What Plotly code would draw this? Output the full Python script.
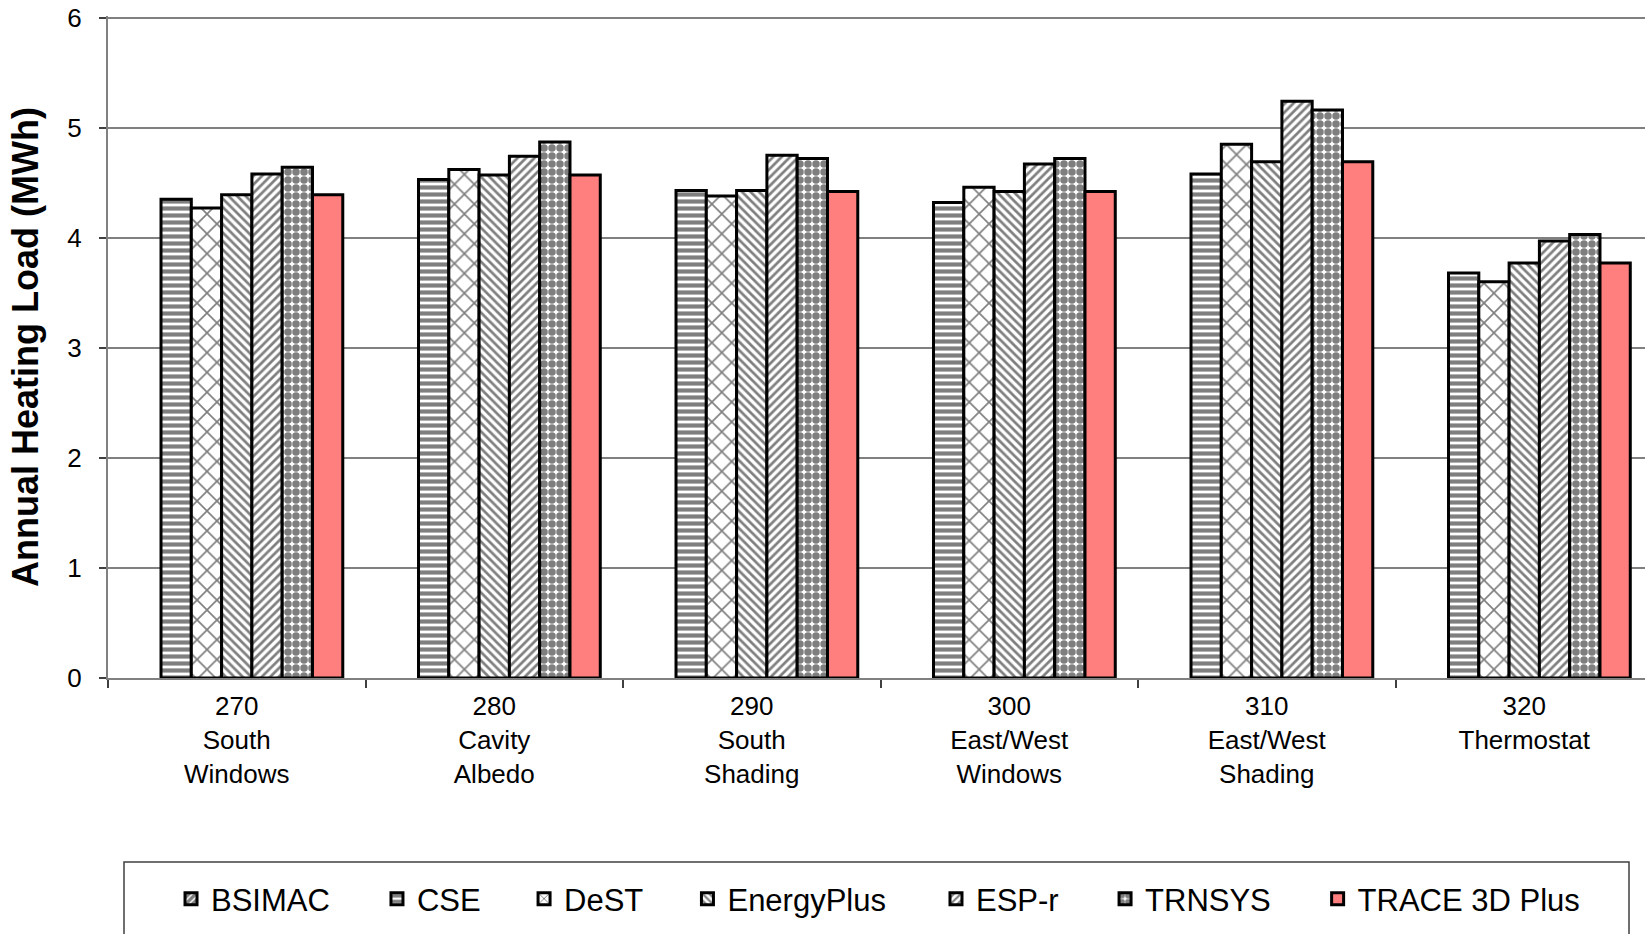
import plotly.graph_objects as go

categories = ["270<br>South<br>Windows", "280<br>Cavity<br>Albedo", "290<br>South<br>Shading",
              "300<br>East/West<br>Windows", "310<br>East/West<br>Shading", "320<br>Thermostat"]

bsimac = [None, None, None, None, None, None]
cse = [4.35, 4.53, 4.43, 4.32, 4.58, 3.68]
dest = [4.27, 4.62, 4.38, 4.46, 4.85, 3.60]
energyplus = [4.39, 4.57, 4.43, 4.42, 4.69, 3.77]
espr = [4.58, 4.74, 4.75, 4.67, 5.24, 3.97]
trnsys = [4.64, 4.87, 4.72, 4.72, 5.16, 4.03]
trace3d = [4.39, 4.57, 4.42, 4.42, 4.69, 3.77]

series_names = ["BSIMAC", "CSE", "DeST", "EnergyPlus", "ESP-r", "TRNSYS", "TRACE 3D Plus"]
series_values = [bsimac, cse, dest, energyplus, espr, trnsys, trace3d]

patterns = [
    dict(shape="/", size=6, solidity=0.7),
    dict(shape="-", size=7, solidity=0.6),
    dict(shape="x", size=14, solidity=0.22),
    dict(shape="\\", size=6, solidity=0.45),
    dict(shape="/", size=6, solidity=0.45),
    dict(shape=".", size=8, solidity=0.7),
    None,
]

# legend placement (paper x of each legend's left edge)
legend_x = [0.041, 0.175, 0.2707, 0.377, 0.5387, 0.6487, 0.787]

W, H = 1645, 934
L, T, B = 108, 16, 256
PW = W - L
PH = H - T - B
BOTTOM = T + PH

fig = go.Figure()
for i, (name, vals, pat) in enumerate(zip(series_names, series_values, patterns)):
    marker = dict(line=dict(color="black", width=3))
    if pat is None:
        marker["color"] = "#FF7F7F"
    else:
        marker["color"] = "white"
        marker["pattern"] = dict(fgcolor="black", bgcolor="white", fillmode="overlay", **pat)
    lname = "legend" if i == 0 else f"legend{i + 1}"
    fig.add_trace(go.Bar(name=name, x=categories, y=vals, marker=marker,
                         offsetgroup=str(i), legend=lname))

layout_legends = {}
for i, lx in enumerate(legend_x):
    lname = "legend" if i == 0 else f"legend{i + 1}"
    layout_legends[lname] = dict(orientation="h", x=lx, xanchor="left",
                                 y=-(899 - BOTTOM) / PH, yanchor="middle",
                                 font=dict(size=31), bgcolor="rgba(0,0,0,0)", borderwidth=0,
                                 itemwidth=30)

fig.update_layout(
    width=W, height=H,
    margin=dict(l=L, r=0, t=T, b=B, autoexpand=False),
    paper_bgcolor="white", plot_bgcolor="white",
    barmode="group", bargap=1.5 / 8.5, bargroupgap=0,
    font=dict(family="Liberation Sans, Arial, sans-serif", color="black", size=26),
    showlegend=True,
    shapes=[dict(type="rect", xref="paper", yref="paper",
                 x0=16 / PW, x1=1521 / PW,
                 y0=-(950 - BOTTOM) / PH, y1=-(862 - BOTTOM) / PH,
                 line=dict(color="#404040", width=1.5), fillcolor="rgba(0,0,0,0)")],
    **layout_legends,
)

fig.update_xaxes(
    type="category", range=[-0.5, -0.5 + PW / 257.5], tickson="boundaries",
    ticks="outside", ticklen=8, tickcolor="#404040", tickwidth=1.5,
    showline=True, linecolor="#808080", linewidth=2, showgrid=False,
    tickfont=dict(size=26), ticklabelstandoff=4,
)
fig.update_yaxes(
    range=[0, 6.015], tickvals=[0, 1, 2, 3, 4, 5, 6], ticklabeloverflow="allow",
    ticks="outside", ticklen=7, tickcolor="#404040", tickwidth=1.5,
    showline=True, linecolor="#808080", linewidth=2,
    showgrid=True, gridcolor="#808080", gridwidth=1.5,
    zeroline=False, tickfont=dict(size=26), ticklabelstandoff=12,
    title=dict(text="<b>Annual Heating Load (MWh)</b>", font=dict(size=36), standoff=18),
)

fig.write_html("out.html", config={"displayModeBar": False},
               post_script="document.body.style.margin='0';document.body.style.overflow='hidden';")
